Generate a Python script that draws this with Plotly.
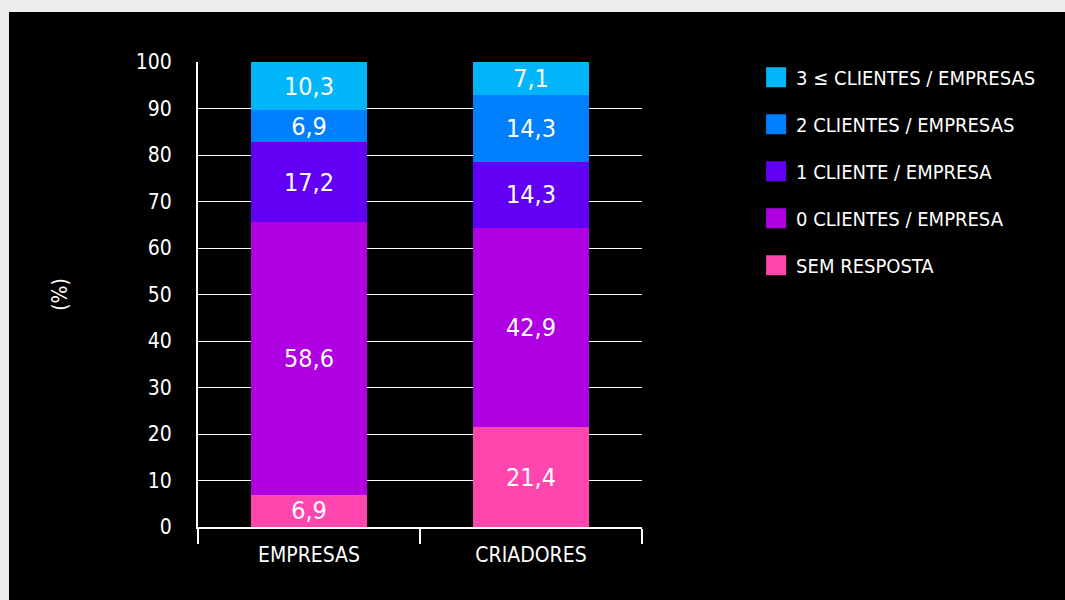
import plotly.graph_objects as go

categories = ["EMPRESAS", "CRIADORES"]
series_names = ["SEM RESPOSTA", "0 CLIENTES / EMPRESA", "1 CLIENTE / EMPRESA",
                "2 CLIENTES / EMPRESAS", "3 ≤ CLIENTES / EMPRESAS"]
sem_resposta = [6.9, 21.4]
zero_clientes = [58.6, 42.9]
um_cliente = [17.2, 14.3]
dois_clientes = [6.9, 14.3]
tres_mais = [10.3, 7.1]
series_values = [sem_resposta, zero_clientes, um_cliente, dois_clientes, tres_mais]
colors = ["#FF45AE", "#AE00E0", "#6200F5", "#0080FF", "#00B6F8"]
y_ticks = [0, 10, 20, 30, 40, 50, 60, 70, 80, 90, 100]

FONT = "Liberation Sans Narrow, DejaVu Sans Condensed, Arial Narrow, sans-serif"

fig = go.Figure()
for name, vals, col in zip(series_names, series_values, colors):
    fig.add_trace(go.Bar(
        x=categories, y=vals, name=name, marker=dict(color=col, line=dict(width=0)),
        width=0.52, texttemplate="%{y:.1f}", textposition="inside",
        insidetextanchor="middle", constraintext="none",
        textfont=dict(color="white", size=25, family=FONT),
        showlegend=False, hoverinfo="skip",
    ))
# legend entries (top to bottom: 3 <= ... down to SEM RESPOSTA)
n = len(series_names)
for i, (name, col) in enumerate(zip(series_names, colors)):
    fig.add_trace(go.Scatter(
        x=[None], y=[None], mode="markers", name=name, legendgroup=name,
        legendrank=n - i,
        marker=dict(symbol="square", size=16, color=col, line=dict(color=col, width=4)),
    ))

fig.update_layout(
    width=1065, height=600,
    barmode="stack",
    separators=",.",
    paper_bgcolor="#EEECEC",
    plot_bgcolor="black",
    margin=dict(l=198, r=423, t=62, b=73),
    font=dict(family=FONT, color="white", size=22),
    shapes=[dict(type="rect", xref="paper", yref="paper", x0=-0.4257, x1=2.0,
                 y0=-0.3, y1=1.1075, fillcolor="black", line=dict(width=0), layer="below")],
    legend=dict(x=1.257, y=1.009, xanchor="left", yanchor="top",
                traceorder="grouped", tracegroupgap=18,
                font=dict(size=20, color="white", family=FONT),
                bgcolor="rgba(0,0,0,0)", itemclick=False),
    xaxis=dict(showgrid=False, showline=True, linecolor="white", linewidth=2,
               ticks="outside", tickson="boundaries", ticklen=15, tickwidth=2,
               tickcolor="white", ticklabelstandoff=8,
               tickfont=dict(size=21, color="white", family=FONT),
               fixedrange=True),
    yaxis=dict(range=[0, 100], tickvals=y_ticks, showgrid=True, gridcolor="white",
               gridwidth=1, showline=True, linecolor="white", linewidth=2,
               zeroline=False, ticks="", ticklabelstandoff=20,
               tickfont=dict(size=21, color="white", family=FONT),
               title=dict(text="(%)", standoff=62, font=dict(size=21, color="white", family=FONT)),
               fixedrange=True),
)

fig.write_html("out.html", config={"displayModeBar": False},
               post_script="document.body.style.margin='0';document.body.style.padding='0';")
